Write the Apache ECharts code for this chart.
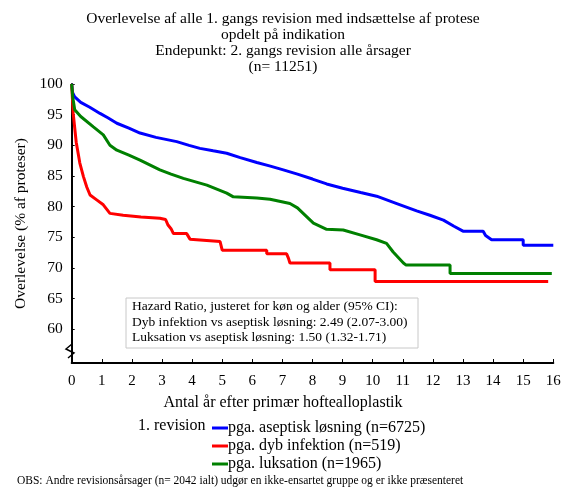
<!DOCTYPE html>
<html>
<head>
<meta charset="utf-8">
<script src="https://cdn.jsdelivr.net/npm/echarts@6/dist/echarts.min.js"></script>
<style>html,body{margin:0;padding:0;background:#fff}#c{width:566px;height:488px}</style>
</head>
<body>
<div id="c"></div>
<script>
var titleLines = ['Overlevelse af alle 1. gangs revision med indsættelse af protese', 'opdelt på indikation', 'Endepunkt: 2. gangs revision alle årsager', '(n= 11251)'];
var xTicks = [0,1,2,3,4,5,6,7,8,9,10,11,12,13,14,15,16];
var yTicks = [60,65,70,75,80,85,90,95,100];
var seriesNames = ['pga. aseptisk løsning (n=6725)', 'pga. dyb infektion (n=519)', 'pga. luksation (n=1965)'];
var hazardLines = ['Hazard Ratio, justeret for køn og alder (95% CI):', 'Dyb infektion vs aseptisk løsning: 2.49 (2.07-3.00)', 'Luksation vs aseptisk løsning: 1.50 (1.32-1.71)'];

var asepT = [0,0.03,0.1,0.3,0.6,0.94,1.2,1.5,1.9,2.27,2.8,3.49,3.9,4.26,4.7,5.15,5.6,6.15,6.6,7.03,7.5,8.0,8.47,9.0,9.6,10.13,10.8,11.46,11.9,12.35,12.7,13.0,13.67,13.75,13.95,15.0,15.0,16.0];
var asepV = [100,98.6,97.9,97.0,96.2,95.2,94.5,93.6,92.8,92.0,91.3,90.6,90.0,89.5,89.1,88.7,88.0,87.2,86.6,86.0,85.3,84.5,83.7,83.0,82.3,81.7,80.5,79.3,78.6,77.8,76.8,76.0,76.0,75.3,74.6,74.6,73.7,73.7];

var infT = [0,0.02,0.05,0.15,0.27,0.39,0.5,0.61,0.83,1.05,1.27,1.71,2.3,2.93,3.12,3.2,3.3,3.38,3.82,3.93,4.93,5.0,6.48,6.48,7.14,7.2,7.25,8.58,8.58,10.08,10.08,15.83];
var infV = [100,98,95.2,90.5,87.1,84.9,83.2,81.9,81.1,80.3,78.9,78.6,78.3,78.1,77.9,77.0,76.4,75.6,75.6,74.7,74.3,72.9,72.9,72.3,72.3,71.6,70.8,70.8,69.7,69.7,67.8,67.8];

var luksT = [0,0.03,0.1,0.3,0.72,1.05,1.27,1.5,1.9,2.27,2.93,3.3,3.71,4.49,5.15,5.37,6.15,6.59,7.25,7.5,7.69,8.03,8.47,9.02,9.58,10.13,10.46,10.68,11.02,11.1,12.57,12.57,15.95];
var luksV = [100,98,95.8,94.7,93.0,91.7,90.0,89.2,88.4,87.6,86.0,85.3,84.6,83.5,82.2,81.6,81.4,81.2,80.5,79.8,78.9,77.3,76.3,76.2,75.4,74.6,74.0,72.6,70.8,70.5,70.5,69.1,69.1];

function pairs(t, v) { return t.map(function (x, i) { return [x, v[i]]; }); }
var serif = 'Liberation Serif, Times New Roman, serif';

var chart = echarts.init(document.getElementById('c'));
function mk(name, t, v, color) {
  return { name: name, type: 'line', data: pairs(t, v), showSymbol: false, symbol: 'none',
    lineStyle: { color: color, width: 3 }, itemStyle: { color: color }, animation: false };
}
chart.setOption({
  animation: false,
  title: { text: titleLines.join('\n'), left: 'center', top: 6,
    textStyle: { fontFamily: serif, fontSize: 15.5, fontWeight: 'normal', color: '#000', lineHeight: 16 } },
  grid: { left: 71.7, right: 12.7, top: 84, bottom: 125 },
  xAxis: { type: 'value', min: 0, max: 16, interval: 1,
    axisLine: { lineStyle: { color: '#000', width: 2 } },
    axisTick: { inside: true, length: 4, lineStyle: { color: '#000' } },
    axisLabel: { fontFamily: serif, fontSize: 15, color: '#000', margin: 11 },
    splitLine: { show: false } },
  yAxis: { type: 'value', min: 54.5, max: 100,
    name: 'Overlevelse (% af proteser)', nameLocation: 'middle', nameGap: 41,
    nameTextStyle: { fontFamily: serif, fontSize: 15.5, color: '#000' },
    axisLine: { show: true, lineStyle: { color: '#000', width: 2 } },
    axisTick: { show: true, inside: true, length: 3, customValues: yTicks, lineStyle: { color: '#000' } },
    axisLabel: { fontFamily: serif, fontSize: 15.5, color: '#000', margin: 9, customValues: yTicks },
    splitLine: { show: false } },
  legend: { orient: 'vertical', left: 207, top: 415, itemWidth: 16, itemHeight: 3, itemGap: 2, icon: 'rect',
    data: seriesNames,
    textStyle: { fontFamily: serif, fontSize: 16, color: '#000', padding: [0, 0, 0, -5] } },
  series: [
    mk(seriesNames[0], asepT, asepV, '#0000ff'),
    mk(seriesNames[1], infT, infV, '#ff0000'),
    mk(seriesNames[2], luksT, luksV, '#008000')
  ],
  graphic: [
    { type: 'polyline', shape: { points: [[72, 344], [66, 349], [74, 353], [68, 358]] },
      style: { stroke: '#000', lineWidth: 1.5, fill: null } },
    { type: 'text', left: 'center', top: 395,
      style: { text: 'Antal år efter primær hoftealloplastik', font: '16px ' + serif, fill: '#000' } },
    { type: 'text', left: 138, top: 418,
      style: { text: '1. revision', font: '16px ' + serif, fill: '#000' } },
    { type: 'text', left: 17, top: 475,
      style: { text: 'OBS: Andre revisionsårsager (n= 2042 ialt) udgør en ikke-ensartet gruppe og er ikke præsenteret', font: '11.5px ' + serif, fill: '#000' } },
    { type: 'rect', shape: { x: 126, y: 298, width: 292, height: 50 },
      style: { fill: '#fff', stroke: '#c8c8c8', lineWidth: 1 } },
    { type: 'text', left: 132, top: 299,
      style: { text: hazardLines.join('\n'), font: '13.5px ' + serif, fill: '#000', lineHeight: 15.5 } }
  ]
});
</script>
</body>
</html>
